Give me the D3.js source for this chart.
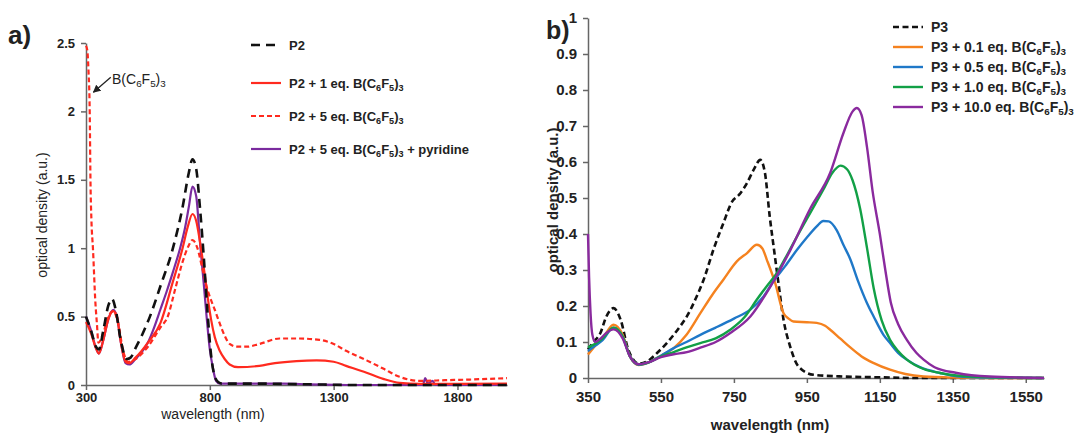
<!DOCTYPE html>
<meta charset="utf-8">
<style>
body { margin: 0; background: #fff; }
svg text { font-family: "Liberation Sans", Arial, sans-serif; fill: #222; }
.axis path, .axis line { stroke: #666; stroke-width: 1.5; }
.axis text { font-weight: bold; fill: #222; }
.line { fill: none; }
</style>
<body>
<div id="chart"></div>
<script src="https://d3js.org/d3.v7.min.js"></script>
<script>
// ---- panel a) data: P2 ----
var p2Nm   = [300, 320, 340, 352, 370, 390, 405, 420, 440, 465, 480, 500, 530, 558, 600, 651, 690, 715, 730, 745, 760, 775, 790, 805, 820, 835, 850, 900, 1000, 1200, 1400, 2000];
var p2Od   = [0.50, 0.40, 0.28, 0.26, 0.40, 0.58, 0.63, 0.55, 0.33, 0.19, 0.20, 0.27, 0.38, 0.50, 0.72, 1.00, 1.30, 1.55, 1.65, 1.58, 1.30, 0.95, 0.55, 0.22, 0.06, 0.02, 0.01, 0.01, 0.01, 0.005, 0, 0];
var p2b1Nm = [300, 320, 340, 352, 370, 390, 410, 425, 440, 460, 475, 500, 550, 600, 650, 690, 710, 730, 745, 760, 780, 793, 805, 820, 840, 860, 880, 914, 1000, 1063, 1150, 1231, 1300, 1350, 1433, 1500, 1566, 1650, 1800, 2000];
var p2b1Od = [0.46, 0.38, 0.27, 0.23, 0.33, 0.48, 0.54, 0.50, 0.32, 0.17, 0.16, 0.20, 0.31, 0.45, 0.75, 1.00, 1.15, 1.25, 1.20, 1.05, 0.80, 0.62, 0.48, 0.35, 0.25, 0.19, 0.15, 0.13, 0.14, 0.16, 0.175, 0.18, 0.17, 0.14, 0.09, 0.045, 0.015, 0.008, 0.008, 0.01];
var p2b5Nm = [300, 305, 310, 315, 318, 322, 328, 338, 344, 350, 370, 390, 410, 430, 450, 470, 500, 550, 600, 630, 660, 690, 715, 730, 750, 770, 790, 805, 820, 840, 860, 880, 910, 950, 1000, 1082, 1150, 1243, 1300, 1350, 1433, 1500, 1566, 1646, 1750, 1850, 2000];
var p2b5Od = [2.48, 2.45, 2.30, 2.00, 1.50, 1.20, 1.00, 0.60, 0.45, 0.31, 0.38, 0.50, 0.54, 0.45, 0.25, 0.17, 0.19, 0.28, 0.42, 0.50, 0.70, 0.90, 1.02, 1.06, 1.00, 0.85, 0.70, 0.62, 0.55, 0.45, 0.36, 0.30, 0.28, 0.28, 0.30, 0.34, 0.34, 0.33, 0.30, 0.25, 0.18, 0.12, 0.06, 0.03, 0.035, 0.04, 0.05];
var p2pyNm = [300, 320, 340, 352, 370, 390, 410, 425, 440, 460, 475, 500, 525, 550, 575, 600, 625, 650, 680, 700, 715, 730, 745, 760, 775, 787, 800, 813, 825, 840, 900, 1000, 1100, 1200, 1400, 1600, 1660, 1670, 1680, 1700, 1710, 1800, 2000];
var p2pyOd = [0.50, 0.40, 0.27, 0.23, 0.33, 0.48, 0.55, 0.50, 0.32, 0.16, 0.15, 0.19, 0.24, 0.31, 0.42, 0.55, 0.68, 0.82, 1.00, 1.15, 1.30, 1.45, 1.38, 1.05, 0.75, 0.50, 0.26, 0.12, 0.03, 0.01, 0.01, 0.01, 0.01, 0.005, 0, 0, 0, 0.05, 0.01, 0.03, 0, 0, 0];

// ---- panel b) data: P3 ----
var p3Nm    = [350, 365, 384, 400, 420, 440, 460, 489, 512, 540, 566, 600, 621, 645, 667, 695, 721, 745, 765, 785, 805, 822, 835, 848, 860, 872, 886, 904, 927, 968, 1050, 1150, 1250, 1600];
var p3Od    = [0.08, 0.10, 0.125, 0.17, 0.194, 0.16, 0.08, 0.04, 0.046, 0.07, 0.097, 0.14, 0.171, 0.22, 0.273, 0.36, 0.43, 0.49, 0.51, 0.54, 0.58, 0.606, 0.57, 0.45, 0.356, 0.264, 0.162, 0.088, 0.032, 0.009, 0.004, 0.002, 0, 0];
var p3b01Nm = [350, 370, 390, 420, 445, 465, 489, 520, 550, 585, 620, 658, 690, 721, 758, 786, 813, 828, 840, 863, 886, 900, 913, 950, 977, 1000, 1014, 1041, 1069, 1100, 1132, 1178, 1220, 1270, 1350, 1450, 1600];
var p3b01Od = [0.065, 0.09, 0.11, 0.148, 0.12, 0.06, 0.036, 0.045, 0.062, 0.083, 0.12, 0.18, 0.23, 0.273, 0.324, 0.347, 0.37, 0.36, 0.329, 0.264, 0.18, 0.165, 0.157, 0.155, 0.153, 0.145, 0.134, 0.11, 0.085, 0.06, 0.042, 0.023, 0.011, 0.004, 0.001, 0, 0];
var p3b05Nm = [350, 370, 390, 420, 445, 465, 489, 520, 550, 585, 620, 658, 700, 750, 795, 830, 859, 890, 923, 950, 977, 995, 1010, 1032, 1050, 1069, 1090, 1114, 1133, 1160, 1178, 1200, 1224, 1260, 1315, 1361, 1450, 1600];
var p3b05Od = [0.075, 0.09, 0.105, 0.14, 0.115, 0.06, 0.037, 0.045, 0.062, 0.083, 0.10, 0.12, 0.14, 0.165, 0.19, 0.225, 0.27, 0.31, 0.356, 0.39, 0.421, 0.436, 0.435, 0.41, 0.37, 0.33, 0.27, 0.21, 0.171, 0.12, 0.097, 0.07, 0.051, 0.03, 0.014, 0.005, 0.001, 0];
var p3b1Nm  = [350, 370, 390, 420, 445, 465, 489, 520, 550, 585, 620, 658, 700, 740, 780, 813, 840, 868, 900, 923, 960, 995, 1020, 1042, 1060, 1075, 1096, 1115, 1133, 1155, 1178, 1200, 1224, 1270, 1315, 1400, 1500, 1600];
var p3b1Od  = [0.085, 0.095, 0.11, 0.14, 0.115, 0.06, 0.038, 0.045, 0.06, 0.072, 0.085, 0.097, 0.11, 0.134, 0.17, 0.218, 0.255, 0.292, 0.35, 0.393, 0.46, 0.523, 0.57, 0.59, 0.58, 0.55, 0.47, 0.36, 0.25, 0.16, 0.106, 0.075, 0.051, 0.025, 0.014, 0.004, 0.001, 0];
var p3b10Nm = [350, 353, 357, 362, 370, 385, 400, 420, 445, 465, 489, 520, 550, 585, 621, 660, 700, 740, 795, 850, 905, 959, 1014, 1050, 1075, 1087, 1100, 1115, 1130, 1150, 1165, 1180, 1200, 1224, 1250, 1270, 1300, 1361, 1450, 1600];
var p3b10Od = [0.40, 0.28, 0.18, 0.12, 0.10, 0.11, 0.125, 0.135, 0.11, 0.06, 0.038, 0.045, 0.058, 0.066, 0.072, 0.085, 0.10, 0.125, 0.171, 0.254, 0.356, 0.47, 0.57, 0.68, 0.74, 0.75, 0.73, 0.64, 0.52, 0.40, 0.30, 0.21, 0.15, 0.106, 0.07, 0.051, 0.03, 0.014, 0.004, 0];

// axis ticks & legend labels ( _n = subscript )
var xTicksA = [300, 800, 1300, 1800];
var yTicksA = [0, 0.5, 1, 1.5, 2, 2.5];
var xTicksB = [350, 550, 750, 950, 1150, 1350, 1550];
var yTicksB = [0, 0.1, 0.2, 0.3, 0.4, 0.5, 0.6, 0.7, 0.8, 0.9, 1];
var legendA = ["P2", "P2 + 1 eq. B(C_6F_5)_3", "P2 + 5 eq. B(C_6F_5)_3", "P2 + 5 eq. B(C_6F_5)_3 + pyridine"];
var legendB = ["P3", "P3 + 0.1 eq. B(C_6F_5)_3", "P3 + 0.5 eq. B(C_6F_5)_3", "P3 + 1.0 eq. B(C_6F_5)_3", "P3 + 10.0 eq. B(C_6F_5)_3"];

var svg = d3.select("#chart").append("svg")
    .attr("width", 1077).attr("height", 433);

// text with "_d" -> subscript
function richText(t, str) {
    var shift = 0;
    str.split(/(_\d)/).forEach(function(part) {
        if (!part) return;
        if (part[0] === "_") {
            t.append("tspan").attr("dy", 3 - shift).attr("font-size", "0.7em").text(part[1]);
            shift = 3;
        } else {
            t.append("tspan").attr("dy", -shift).text(part);
            shift = 0;
        }
    });
}

function zip(a, b) { return a.map(function(v, i) { return [v, b[i]]; }); }

function panel(o) {
    var x = d3.scaleLinear().domain(o.xDomain).range(o.xRange);
    var y = d3.scaleLinear().domain(o.yDomain).range(o.yRange);
    var g = svg.append("g");

    g.append("g").attr("class", "axis")
        .attr("transform", "translate(0," + o.yRange[0] + ")")
        .call(d3.axisBottom(x).tickValues(o.xTicks).tickFormat(d3.format("d")).tickSize(5).tickSizeOuter(0).tickPadding(o.xPad))
        .selectAll("text").attr("font-size", o.tickFont);
    g.append("g").attr("class", "axis")
        .attr("transform", "translate(" + o.xRange[0] + ",0)")
        .call(d3.axisLeft(y).tickValues(o.yTicks).tickFormat(d3.format("~g")).tickSize(5).tickSizeOuter(0).tickPadding(6))
        .selectAll("text").attr("font-size", o.tickFont);

    var line = d3.line()
        .x(function(d) { return x(d[0]); })
        .y(function(d) { return y(d[1]); })
        .curve(d3.curveMonotoneX);

    o.order.forEach(function(i) {
        var s = o.series[i];
        g.append("path").datum(zip(s.nm, s.od))
            .attr("class", "line")
            .attr("stroke", s.color)
            .attr("stroke-width", s.width)
            .attr("stroke-dasharray", s.dash || null)
            .attr("d", line);
    });

    // legend
    o.series.forEach(function(s, i) {
        var ly = o.legend.rows[i];
        g.append("line")
            .attr("x1", o.legend.x).attr("x2", o.legend.x + 30)
            .attr("y1", ly).attr("y2", ly)
            .attr("stroke", s.color).attr("stroke-width", s.width)
            .attr("stroke-dasharray", s.dash || null);
        var t = g.append("text")
            .attr("x", o.legend.x + 38).attr("y", ly + 5)
            .attr("font-size", o.legend.font).attr("font-weight", "bold");
        richText(t, o.labels[i]);
    });
    return {x: x, y: y, g: g};
}

var a = panel({
    xDomain: [300, 2000], xRange: [86, 507],
    yDomain: [0, 2.5], yRange: [385, 43],
    xTicks: xTicksA, yTicks: yTicksA, tickFont: 13, xPad: 3,
    labels: legendA,
    legend: {x: 251, rows: [45, 83, 116, 149], font: 13},
    order: [3, 2, 1, 0],
    series: [
        {nm: p2Nm, od: p2Od, color: "#111", width: 2.6, dash: "9,6"},
        {nm: p2b1Nm, od: p2b1Od, color: "#ff2a1f", width: 2.2},
        {nm: p2b5Nm, od: p2b5Od, color: "#ff2a1f", width: 2.2, dash: "5,3"},
        {nm: p2pyNm, od: p2pyOd, color: "#7a2a9e", width: 2.2}
    ]
});

var b = panel({
    xDomain: [350, 1600], xRange: [588, 1044],
    yDomain: [0, 1], yRange: [378, 18],
    xTicks: xTicksB, yTicks: yTicksB, tickFont: 15, xPad: 8,
    labels: legendB,
    legend: {x: 893, rows: [27, 47, 67, 87, 107], font: 14},
    order: [0, 1, 2, 3, 4],
    series: [
        {nm: p3Nm, od: p3Od, color: "#111", width: 2.6, dash: "6,3.5"},
        {nm: p3b01Nm, od: p3b01Od, color: "#f5821f", width: 2.4},
        {nm: p3b05Nm, od: p3b05Od, color: "#1f78c8", width: 2.4},
        {nm: p3b1Nm, od: p3b1Od, color: "#12a046", width: 2.4},
        {nm: p3b10Nm, od: p3b10Od, color: "#8a2a9e", width: 2.4}
    ]
});

// axis titles & panel letters
svg.append("text").attr("x", 8).attr("y", 44).attr("font-size", 26).attr("font-weight", "bold").text("a)");
svg.append("text").attr("x", 546).attr("y", 39).attr("font-size", 25).attr("font-weight", "bold").text("b)");
svg.append("text").attr("x", 213).attr("y", 419).attr("text-anchor", "middle").attr("font-size", 14).text("wavelength (nm)");
svg.append("text").attr("transform", "translate(47,215) rotate(-90)").attr("text-anchor", "middle").attr("font-size", 14).text("optical density (a.u.)");
svg.append("text").attr("x", 770).attr("y", 430).attr("text-anchor", "middle").attr("font-size", 15).attr("font-weight", "bold").text("wavelength (nm)");
svg.append("text").attr("transform", "translate(558,200) rotate(-90)").attr("text-anchor", "middle").attr("font-size", 15).attr("font-weight", "bold").text("optical density (a.u.)");

// B(C6F5)3 annotation with arrow
svg.append("defs").append("marker").attr("id", "arr")
    .attr("viewBox", "0 0 10 10").attr("refX", 9).attr("refY", 5)
    .attr("markerWidth", 6).attr("markerHeight", 6).attr("orient", "auto")
  .append("path").attr("d", "M0,0 L10,5 L0,10 z").attr("fill", "#222");
svg.append("line").attr("x1", a.x(400)).attr("y1", a.y(2.25)).attr("x2", a.x(330)).attr("y2", a.y(2.14))
    .attr("stroke", "#222").attr("stroke-width", 1.3).attr("marker-end", "url(#arr)");
var ann = svg.append("text").attr("x", a.x(405)).attr("y", a.y(2.2)).attr("font-size", 14);
richText(ann, "B(C_6F_5)_3");
</script>
</body>
